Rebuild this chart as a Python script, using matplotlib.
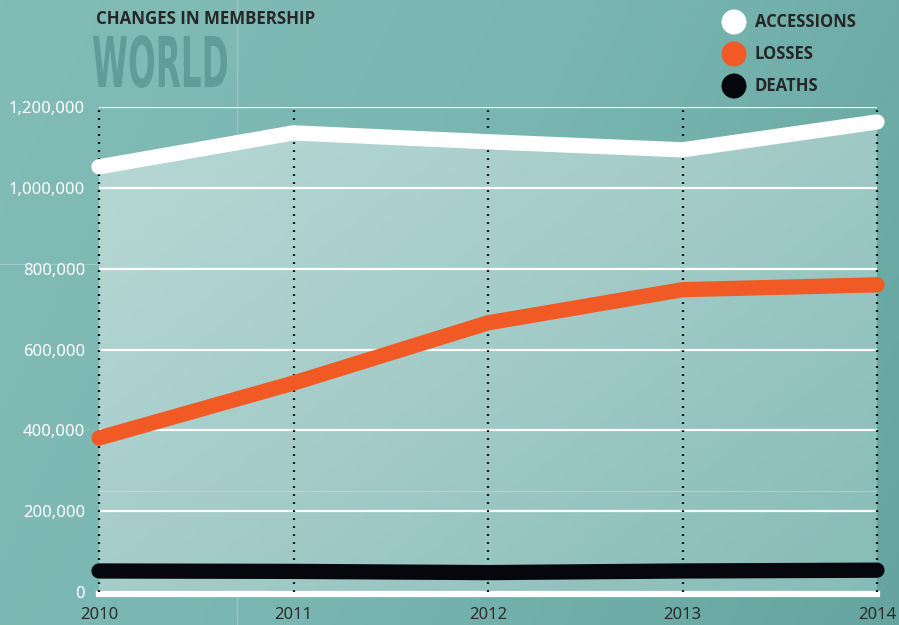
import numpy as np
import matplotlib
matplotlib.use('Agg')
import matplotlib.pyplot as plt
from matplotlib.textpath import TextPath
from matplotlib.patches import PathPatch, Polygon, Ellipse
from matplotlib.font_manager import FontProperties
from matplotlib.transforms import Affine2D
from matplotlib.colors import LinearSegmentedColormap

years = [2010, 2011, 2012, 2013, 2014]
accessions = [1052000, 1136000, 1114000, 1094000, 1163000]
losses = [381000, 517000, 666000, 748000, 760000]
deaths = [52000, 51000, 48000, 52000, 54000]
y_ticks = [0, 200000, 400000, 600000, 800000, 1000000, 1200000]

series = [('ACCESSIONS', accessions, 'white'),
          ('LOSSES', losses, '#f15a24'),
          ('DEATHS', deaths, '#05070c')]

W, H = 899, 625
fig = plt.figure(figsize=(W / 100, H / 100), dpi=100)

# background gradient
bg = fig.add_axes([0, 0, 1, 1])
bg.set_axis_off()
gx, gy = np.meshgrid(np.linspace(0, 1, 300), np.linspace(0, 1, 200))
grad = 0.75 * gx + 0.25 * gy
bg_cmap = LinearSegmentedColormap.from_list('bg', ['#82bcb7', '#79b6b1', '#66a49f'])
bg.imshow(grad, cmap=bg_cmap, extent=[0, 1, 0, 1], aspect='auto', origin='upper')
bg.set_xlim(0, 1)
bg.set_ylim(0, 1)
# faint artifact lines in the original artwork
bg.axvline(237 / W, color='white', alpha=0.25, lw=0.8)
bg.plot([0, 99 / W], [1 - 264 / H] * 2, color='white', alpha=0.25, lw=0.8)

x0, x1, y0, y1 = 99, 877, 592, 107
ax = fig.add_axes([x0 / W, 1 - y0 / H, (x1 - x0) / W, (y0 - y1) / H])
ax.patch.set_alpha(0)
ax.set_xlim(2010, 2014)
ax.set_ylim(0, 1200000)
for s in ax.spines.values():
    s.set_visible(False)

# gradient fill under accessions
fill_cmap = LinearSegmentedColormap.from_list('fill', ['#b8d9d6', '#a3cbc8', '#86bcb7'])
fx, fy = np.meshgrid(np.linspace(0, 1, 300), np.linspace(0, 1, 200))
fg = 0.55 * fx + 0.45 * fy
img = ax.imshow(fg, cmap=fill_cmap, extent=[2010, 2014, 0, 1200000],
                aspect='auto', origin='upper', zorder=1)
poly = Polygon(list(zip(years, accessions)) + [(2014, 0), (2010, 0)],
               closed=True, transform=ax.transData, facecolor='none', edgecolor='none')
ax.add_patch(poly)
img.set_clip_path(poly)
ax.axhline(250000, color='white', alpha=0.25, lw=0.8, zorder=1.5)

# grid
for v in y_ticks[1:]:
    ax.axhline(v, color='white', lw=1.6, zorder=2)
ax.axhline(-4000, color='white', lw=4.5, zorder=2, clip_on=False)
for yr in years:
    ax.plot([yr, yr], [0, 1200000], color='black', lw=1.6,
            linestyle=(0, (0.8, 2.8)), zorder=3, clip_on=False)

for name, vals, col in series:
    ax.plot(years, vals, color=col, lw=11, solid_capstyle='round',
            solid_joinstyle='miter', zorder=4, clip_on=False)

ax.set_yticks(y_ticks)
ax.set_yticklabels([f'{v:,}' for v in y_ticks], color='white',
                   fontsize=12, family='Noto Sans')
ax.set_xticks(years)
ax.set_xticklabels([str(y) for y in years], color='#2b2b2b',
                   fontsize=12, family='Noto Sans')
ax.tick_params(axis='y', length=0, pad=10)
ax.tick_params(axis='x', length=0, pad=11)

# title
fig.text(96 / W, 1 - 19 / H, 'CHANGES IN MEMBERSHIP', color='#262626',
         fontsize=12.2, fontweight='bold', family='Open Sans', va='center', ha='left')
fp = FontProperties(family=['Liberation Sans Narrow', 'DejaVu Sans'], weight='bold')
tp = TextPath((0, 0), 'WORLD', size=50, prop=fp)
ext = tp.get_extents()
bx0, by0, bx1, by1 = 93, 35, 227, 88
sx = ((bx1 - bx0) / W) / ext.width
sy = ((by1 - by0) / H) / ext.height
tr = Affine2D().translate(-ext.x0, -ext.y0).scale(sx, sy).translate(bx0 / W, 1 - by1 / H)
fig.patches.append(PathPatch(tp, transform=tr + fig.transFigure,
                             facecolor='#619c98', edgecolor='none'))

# legend
for i, (name, vals, col) in enumerate(series):
    cy = 22 + 32 * i
    bg.add_patch(Ellipse((734 / W, 1 - cy / H), 25 / W, 25 / H, facecolor=col,
                         edgecolor='none', transform=bg.transAxes))
    fig.text(755 / W, 1 - cy / H, name, color='#262626', fontsize=12,
             fontweight='bold', family='Open Sans', va='center', ha='left')

fig.savefig('out.png', dpi=100)
